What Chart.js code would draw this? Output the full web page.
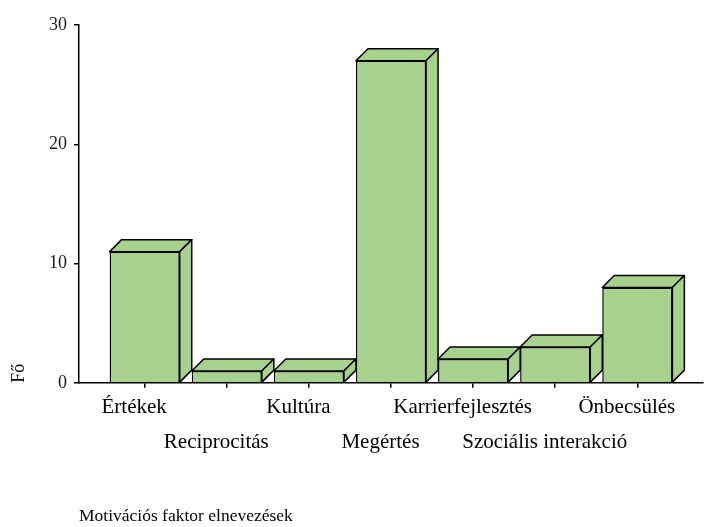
<!DOCTYPE html>
<html>
<head>
<meta charset="utf-8">
<script src="https://cdn.jsdelivr.net/npm/chart.js@4"></script>
<style>
  body { margin: 0; background: #fff; }
  #wrap { width: 713px; height: 527px; }
</style>
</head>
<body>
<div id="wrap"><canvas id="chart"></canvas></div>
<script>
// data
const categories = ['Értékek', 'Reciprocitás', 'Kultúra', 'Megértés', 'Karrierfejlesztés', 'Szociális interakció', 'Önbecsülés'];
const counts = [11, 1, 1, 27, 2, 3, 8];
const yTicks = [0, 10, 20, 30];

const barGreen = '#a6d28e';
const depthX = 12, depthY = 12;
const serif = "'Liberation Serif', 'DejaVu Serif', serif";
// labels in the original sit a bit left of their tick
const nudge = '\u00a0\u00a0\u00a0\u00a0';

// draws the top and the right side of each bar to fake the 3d look
const depthPlugin = {
  id: 'depth',
  afterDatasetsDraw(chart) {
    const ctx = chart.ctx;
    const meta = chart.getDatasetMeta(0);
    ctx.save();
    ctx.fillStyle = barGreen;
    ctx.strokeStyle = '#000';
    ctx.lineWidth = 1.5;
    ctx.lineJoin = 'round';
    meta.data.forEach(bar => {
      const { x, y, base, width } = bar.getProps(['x', 'y', 'base', 'width'], true);
      const l = x - width / 2, r = x + width / 2;
      ctx.beginPath();
      ctx.moveTo(l, y);
      ctx.lineTo(l + depthX, y - depthY);
      ctx.lineTo(r + depthX, y - depthY);
      ctx.lineTo(r, y);
      ctx.closePath();
      ctx.fill();
      ctx.stroke();

      ctx.beginPath();
      ctx.moveTo(r, y);
      ctx.lineTo(r + depthX, y - depthY);
      ctx.lineTo(r + depthX, base - depthY);
      ctx.lineTo(r, base);
      ctx.closePath();
      ctx.fill();
      ctx.stroke();
    });
    ctx.restore();
  }
};

new Chart(document.getElementById('chart'), {
  type: 'bar',
  data: {
    datasets: [{
      data: categories.map((c, i) => ({ x: i, y: counts[i] })),
      backgroundColor: barGreen,
      borderColor: '#000',
      borderWidth: 1.5,
      barPercentage: 0.854,
      categoryPercentage: 1
    }]
  },
  options: {
    responsive: true,
    maintainAspectRatio: false,
    animation: false,
    layout: { padding: { top: 25, right: 10, left: 4, bottom: 0 } },
    plugins: { legend: { display: false }, tooltip: { enabled: false } },
    scales: {
      x: {
        type: 'linear',
        min: -0.8,
        max: 6.8,
        offset: false,
        afterBuildTicks: s => { s.ticks = categories.map((c, i) => ({ value: i })); },
        grid: { display: true, offset: false, drawOnChartArea: false, drawTicks: true, tickLength: 5, color: '#000', lineWidth: 1.5 },
        border: { display: true, color: '#000', width: 1.5 },
        ticks: {
          autoSkip: false,
          maxRotation: 0,
          padding: 2,
          color: '#000',
          font: { family: serif, size: 21, lineHeight: 1.67 },
          callback: (v) => (v % 2 === 0 ? [categories[v] + nudge] : ['', categories[v] + nudge])
        },
        title: {
          display: true,
          text: 'Motivációs faktor elnevezések',
          align: 'start',
          color: '#000',
          font: { family: serif, size: 17.5 },
          padding: { top: 44, bottom: 0 }
        }
      },
      y: {
        min: 0,
        max: 30,
        afterBuildTicks: s => { s.ticks = yTicks.map(v => ({ value: v })); },
        afterFit: s => { s.width = 75; },
        grid: { display: true, drawOnChartArea: false, drawTicks: true, tickLength: 5, color: '#000', lineWidth: 1.5 },
        border: { display: true, color: '#000', width: 1.5 },
        ticks: {
          padding: 7,
          color: '#1a1a1a',
          font: { family: serif, size: 18 }
        },
        title: {
          display: true,
          text: 'Fő',
          align: 'start',
          color: '#000',
          font: { family: serif, size: 18 },
          padding: 4
        }
      }
    }
  },
  plugins: [depthPlugin]
});
</script>
</body>
</html>
